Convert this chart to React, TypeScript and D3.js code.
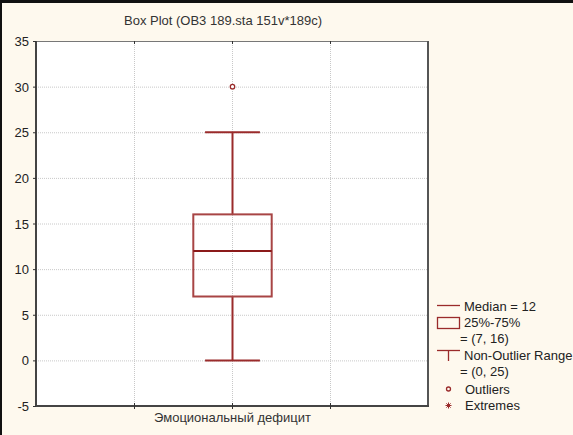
import React, { useRef, useEffect } from "react";
import * as d3 from "d3";

const title = "Box Plot (OB3 189.sta 151v*189c)";
const categories = ["Эмоциональный дефицит"];
const medians = [12];
const q1s = [7];
const q3s = [16];
const lows = [0];
const highs = [25];
const outliers = [[30]];
const yTicks = [-5, 0, 5, 10, 15, 20, 25, 30, 35];

const W = 573;
const H = 435;
const RED = "#9a2b2b";
const FONT = "'Liberation Sans', Arial, sans-serif";

const App: React.FC = () => {
	const svgRef = useRef<SVGSVGElement | null>(null);

	useEffect(() => {
		if (!svgRef.current) return;
		const svg = d3.select(svgRef.current);
		svg.selectAll("*").remove();

		const left = 36, right = 428, top = 41, bottom = 406;

		svg.append("rect").attr("width", W).attr("height", H).attr("fill", "#fef9ee");
		svg.append("rect").attr("x", 0).attr("y", 0).attr("width", W).attr("height", 3).attr("fill", "#111");
		svg.append("rect").attr("x", 0).attr("y", 0).attr("width", 2).attr("height", H).attr("fill", "#111");

		const y = d3.scaleLinear().domain([-5, 35]).range([bottom, top]);
		const x = d3.scaleBand<string>().domain(categories).range([left, right]);
		const xGrid = d3.scaleLinear().domain([0, 4]).range([left, right]);

		svg.append("rect")
			.attr("x", left).attr("y", top)
			.attr("width", right - left).attr("height", bottom - top)
			.attr("fill", "#fff");

		// grid
		const grid = svg.append("g").attr("stroke", "#c8c8c8").attr("stroke-dasharray", "1,1");
		grid.selectAll("line.h")
			.data(yTicks.slice(1, -1))
			.enter().append("line")
			.attr("x1", left).attr("x2", right)
			.attr("y1", (d) => y(d) + 0.5).attr("y2", (d) => y(d) + 0.5);
		grid.selectAll("line.v")
			.data([1, 2, 3])
			.enter().append("line")
			.attr("y1", top).attr("y2", bottom)
			.attr("x1", (d) => Math.round(xGrid(d)) + 0.5).attr("x2", (d) => Math.round(xGrid(d)) + 0.5);

		// frame
		svg.append("line").attr("x1", left).attr("x2", right).attr("y1", top + 0.5).attr("y2", top + 0.5).attr("stroke", "#777");
		svg.append("line").attr("x1", right).attr("x2", right).attr("y1", top).attr("y2", bottom).attr("stroke", "#555").attr("stroke-width", 2);
		svg.append("line").attr("x1", left).attr("x2", left).attr("y1", top).attr("y2", bottom + 1).attr("stroke", "#444").attr("stroke-width", 2);
		svg.append("line").attr("x1", left).attr("x2", right + 1).attr("y1", bottom).attr("y2", bottom).attr("stroke", "#444").attr("stroke-width", 2);

		// tick marks
		const tk = svg.append("g").attr("stroke", "#333");
		tk.selectAll("line.yt").data(yTicks).enter().append("line")
			.attr("x1", left - 3).attr("x2", left)
			.attr("y1", (d) => y(d) + 0.5).attr("y2", (d) => y(d) + 0.5);
		tk.selectAll("line.xt").data([1, 2, 3]).enter().append("line")
			.attr("x1", (d) => Math.round(xGrid(d)) + 0.5).attr("x2", (d) => Math.round(xGrid(d)) + 0.5)
			.attr("y1", top).attr("y2", top + 3);
		tk.selectAll("line.xb").data([1, 2, 3]).enter().append("line")
			.attr("x1", (d) => Math.round(xGrid(d)) + 0.5).attr("x2", (d) => Math.round(xGrid(d)) + 0.5)
			.attr("y1", bottom - 3).attr("y2", bottom + 3);

		svg.append("g").selectAll("text").data(yTicks).enter().append("text")
			.attr("x", 29).attr("y", (d) => y(d) + 5)
			.attr("text-anchor", "end")
			.attr("font-family", FONT).attr("font-size", 13).attr("fill", "#222")
			.text((d) => d);

		svg.append("text")
			.attr("x", 223).attr("y", 25)
			.attr("text-anchor", "middle")
			.attr("font-family", FONT).attr("font-size", 13).attr("fill", "#333")
			.text(title);

		// boxes
		categories.forEach((c, i) => {
			const cx = Math.round(x(c)! + x.bandwidth() / 2) + 0.5;
			const bw = x.bandwidth() * 0.1;
			const cw = x.bandwidth() * 0.07;
			const g = svg.append("g").attr("stroke", RED).attr("fill", "none");
			g.append("line").attr("x1", cx).attr("x2", cx).attr("y1", y(highs[i])).attr("y2", y(q3s[i])).attr("stroke-width", 2);
			g.append("line").attr("x1", cx).attr("x2", cx).attr("y1", y(q1s[i])).attr("y2", y(lows[i])).attr("stroke-width", 2);
			g.append("line").attr("x1", cx - cw).attr("x2", cx + cw).attr("y1", y(highs[i])).attr("y2", y(highs[i])).attr("stroke-width", 2);
			g.append("line").attr("x1", cx - cw).attr("x2", cx + cw).attr("y1", y(lows[i])).attr("y2", y(lows[i])).attr("stroke-width", 2);
			g.append("rect").attr("x", cx - bw).attr("y", y(q3s[i])).attr("width", bw * 2)
				.attr("height", y(q1s[i]) - y(q3s[i])).attr("stroke-width", 2).attr("stroke", "#a84545");
			g.append("line").attr("x1", cx - bw).attr("x2", cx + bw).attr("y1", y(medians[i])).attr("y2", y(medians[i])).attr("stroke-width", 2).attr("stroke", "#8b1a1a");
			g.selectAll("circle").data(outliers[i]).enter().append("circle")
				.attr("cx", cx).attr("cy", (d) => y(d)).attr("r", 2.2).attr("fill", "#fff").attr("stroke-width", 1.3);

			svg.append("text")
				.attr("x", cx).attr("y", 422)
				.attr("text-anchor", "middle")
				.attr("font-family", FONT).attr("font-size", 13).attr("fill", "#333")
				.text(c);
		});

		// legend
		const lg = svg.append("g").attr("font-family", FONT).attr("font-size", 13).attr("fill", "#222");
		const ix = 437, tx = 464;
		lg.append("line").attr("x1", ix).attr("x2", ix + 23).attr("y1", 305.5).attr("y2", 305.5).attr("stroke", RED).attr("stroke-width", 1.3);
		lg.append("text").attr("x", tx).attr("y", 311).text(`Median = ${medians[0]}`);
		lg.append("rect").attr("x", ix + 0.5).attr("y", 317.5).attr("width", 22).attr("height", 11).attr("fill", "none").attr("stroke", RED).attr("stroke-width", 1.3);
		lg.append("text").attr("x", tx).attr("y", 327).text("25%-75%");
		lg.append("text").attr("x", tx - 4).attr("y", 343).text(`= (${q1s[0]}, ${q3s[0]})`);
		lg.append("line").attr("x1", ix).attr("x2", ix + 23).attr("y1", 350.5).attr("y2", 350.5).attr("stroke", RED).attr("stroke-width", 1.3);
		lg.append("line").attr("x1", ix + 11.5).attr("x2", ix + 11.5).attr("y1", 350).attr("y2", 361).attr("stroke", RED).attr("stroke-width", 1.3);
		lg.append("text").attr("x", tx).attr("y", 360).text("Non-Outlier Range");
		lg.append("text").attr("x", tx - 4).attr("y", 376).text(`= (${lows[0]}, ${highs[0]})`);
		lg.append("circle").attr("cx", 448.5).attr("cy", 389).attr("r", 2).attr("fill", "none").attr("stroke", RED).attr("stroke-width", 1.3);
		lg.append("text").attr("x", tx + 1).attr("y", 394).text("Outliers");
		// asterisk marker for extremes
		const ax = 448.5, ay = 405.5, ar = 3;
		const ast = lg.append("g").attr("stroke", RED).attr("stroke-width", 1);
		[0, 45, 90, 135].forEach((a) => {
			const r = (a * Math.PI) / 180;
			ast.append("line")
				.attr("x1", ax - ar * Math.cos(r)).attr("y1", ay - ar * Math.sin(r))
				.attr("x2", ax + ar * Math.cos(r)).attr("y2", ay + ar * Math.sin(r));
		});
		lg.append("text").attr("x", tx + 1).attr("y", 410).text("Extremes");
	}, []);

	return <svg ref={svgRef} width={W} height={H} style={{ position: "absolute", left: 0, top: 0 }} />;
};

export default App;
